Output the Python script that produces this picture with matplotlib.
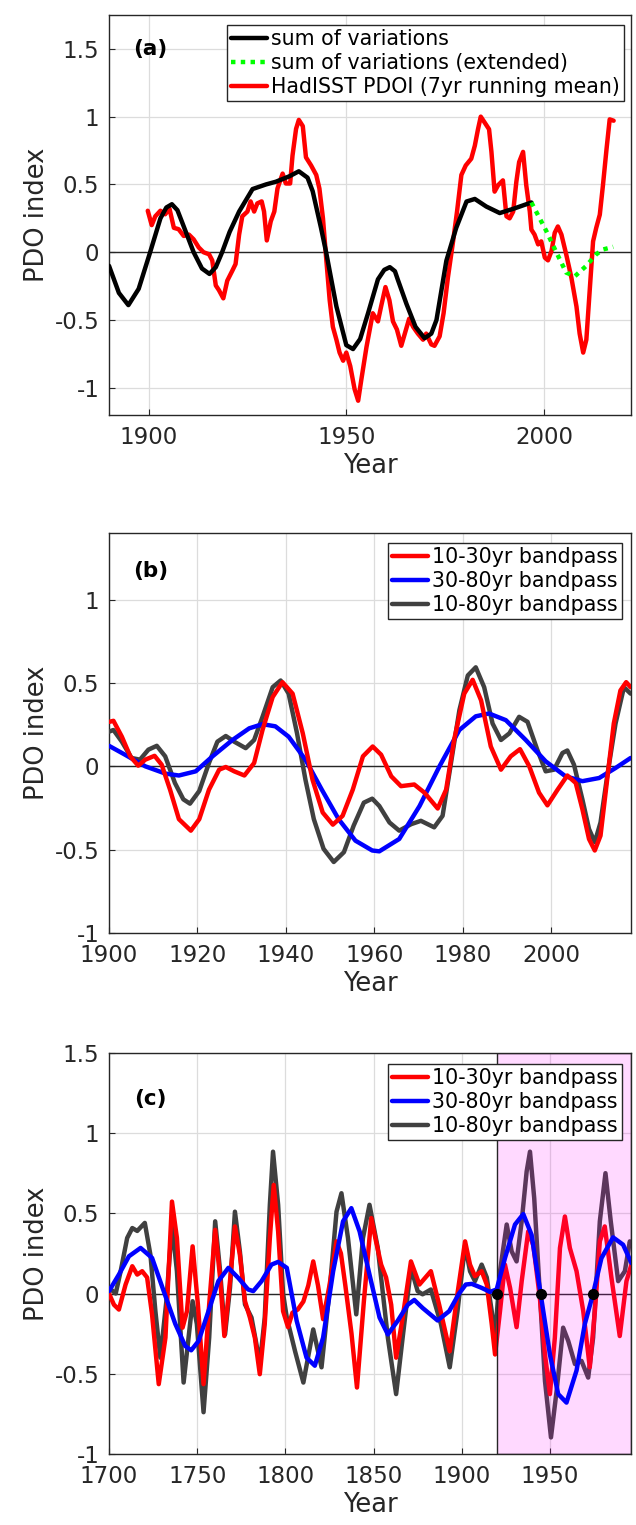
import numpy as np
import matplotlib.pyplot as plt
from matplotlib.ticker import FuncFormatter, MultipleLocator

# ---- panel (a): sum of variations vs HadISST PDOI ----
sum_years = [1890, 1892.5, 1894.9, 1897.5, 1900.4, 1903, 1904.5, 1905.9, 1907.3, 1908.5,
             1911.4, 1913.5, 1915.4, 1917, 1918.6, 1920.5, 1922.9, 1926.3, 1929.7, 1932.2,
             1935.6, 1938, 1940.2, 1941.5, 1943.6, 1944.9, 1947.5, 1950, 1951.7, 1953.5,
             1955.5, 1958, 1959.6, 1961, 1962.3, 1963, 1965.2, 1967.5, 1969.8, 1971.5,
             1972.8, 1975.3, 1977.8, 1980.4, 1982.5, 1985.4, 1988.8, 1992.2, 1996.8]
sum_vals = [-0.10, -0.30, -0.39, -0.27, 0.0, 0.25, 0.33, 0.354, 0.31, 0.22,
            0.0, -0.12, -0.16, -0.11, 0.0, 0.15, 0.30, 0.466, 0.50, 0.52,
            0.56, 0.597, 0.55, 0.45, 0.18, 0.0, -0.40, -0.685, -0.714, -0.64,
            -0.45, -0.2, -0.13, -0.11, -0.14, -0.2, -0.38, -0.55, -0.634, -0.60,
            -0.50, -0.063, 0.18, 0.374, 0.393, 0.337, 0.289, 0.32, 0.367]

ext_years = [1996.8, 2000.6, 2003.1, 2005.6, 2007.8, 2010.7, 2013.2, 2014.9, 2017.5]
ext_vals = [0.367, 0.155, 0.0, -0.15, -0.177, -0.10, -0.015, 0.02, 0.04]

pdoi_years = [1899.8, 1900.8, 1901.7, 1903, 1904.2, 1905.3, 1906.4, 1907.6, 1908.9, 1910.2,
              1911.4, 1912.7, 1913.9, 1915.3, 1916.1, 1917, 1917.8, 1918.9, 1919.9, 1921.2,
              1922, 1922.9, 1923.7, 1925, 1925.8, 1926.7, 1927.5, 1928.6, 1929.2, 1929.9,
              1930.9, 1931.8, 1932.6, 1933.9, 1934.7, 1935.8, 1936.4, 1937.3, 1938, 1939,
              1939.8, 1941.1, 1942.4, 1943.2, 1944.1, 1944.9, 1945.8, 1946.6, 1947.5, 1948.3,
              1949.2, 1950, 1951, 1952.1, 1953, 1953.8, 1955.1, 1956.7, 1958, 1958.8,
              1959.9, 1960.9, 1961.8, 1962.8, 1963.9, 1964.8, 1965.9, 1966.9, 1968.1, 1969.4,
              1970.2, 1971.5, 1972.3, 1973.6, 1974.6, 1975.7, 1977, 1978, 1979.1, 1980.2,
              1981.6, 1982.5, 1983.3, 1984, 1985, 1986.1, 1986.7, 1987.5, 1988.4, 1989.6,
              1990.5, 1991.3, 1992.2, 1993, 1993.7, 1994.7, 1995.5, 1996.4, 1996.8, 1997.6,
              1998.5, 1999.3, 2000.2, 2001, 2001.9, 2002.7, 2003.5, 2004.4, 2005.6, 2006.9,
              2008.2, 2009, 2009.9, 2010.7, 2011.6, 2012.4, 2013.2, 2014.1, 2014.9, 2015.8,
              2016.6, 2017.6]
pdoi_vals = [0.306, 0.20, 0.265, 0.306, 0.28, 0.32, 0.18, 0.17, 0.12, 0.13,
             0.095, 0.035, 0.0, -0.015, -0.06, -0.245, -0.28, -0.34, -0.21, -0.135,
             -0.087, 0.13, 0.265, 0.30, 0.375, 0.30, 0.36, 0.375, 0.30, 0.087,
             0.228, 0.30, 0.47, 0.58, 0.507, 0.507, 0.713, 0.91, 0.976, 0.93,
             0.70, 0.64, 0.57, 0.47, 0.25, -0.04, -0.354, -0.55, -0.645, -0.74,
             -0.80, -0.74, -0.84, -1.01, -1.095, -0.94, -0.70, -0.45, -0.51, -0.40,
             -0.257, -0.354, -0.51, -0.57, -0.69, -0.60, -0.49, -0.55, -0.60, -0.645,
             -0.60, -0.68, -0.69, -0.62, -0.45, -0.185, 0.08, 0.30, 0.57, 0.64,
             0.69, 0.786, 0.907, 1.0, 0.956, 0.907, 0.74, 0.447, 0.495, 0.53,
             0.265, 0.25, 0.30, 0.52, 0.665, 0.74, 0.495, 0.30, 0.167, 0.13,
             0.058, 0.08, -0.04, -0.06, 0.01, 0.143, 0.19, 0.13, -0.015, -0.185,
             -0.40, -0.60, -0.74, -0.645, -0.26, 0.08, 0.18, 0.277, 0.495, 0.76,
             0.98, 0.97]

# ---- panel (b): bandpassed PDO 1900-2018 ----
b_red_years = [1900.1, 1901, 1902.9, 1904.8, 1906.6, 1908.2, 1910.3, 1911.9, 1913.8, 1915.8,
               1918.5, 1920.4, 1922.6, 1924.9, 1926.4, 1928.3, 1930.6, 1932.8, 1934.7, 1937,
               1939.2, 1941.5, 1943.8, 1946, 1948.3, 1950.6, 1952.8, 1955.1, 1957.4, 1959.6,
               1961.5, 1963.8, 1966, 1969, 1971.3, 1974.3, 1976.2, 1978, 1980.3, 1982.2,
               1984.1, 1986.3, 1988.6, 1990.8, 1992.9, 1995, 1997.2, 1999.1, 2001.4, 2003.6,
               2005.5, 2007, 2008.5, 2009.8, 2011.1, 2012.6, 2014.1, 2015.6, 2016.9, 2017.9]
b_red_vals = [0.267, 0.273, 0.178, 0.06, 0.004, 0.04, 0.063, 0.01, -0.14, -0.317,
              -0.386, -0.317, -0.14, -0.02, -0.004, -0.03, -0.055, 0.02, 0.218, 0.416,
              0.505, 0.436, 0.198, -0.08, -0.277, -0.35, -0.297, -0.14, 0.06, 0.119,
              0.07, -0.06, -0.119, -0.109, -0.158, -0.253, -0.14, 0.158, 0.436, 0.519,
              0.396, 0.119, -0.02, 0.06, 0.103, 0.0, -0.158, -0.234, -0.14, -0.055,
              -0.1, -0.257, -0.436, -0.505, -0.416, -0.08, 0.257, 0.455, 0.505, 0.475]

b_blue_years = [1900, 1903.6, 1908.2, 1912.8, 1915.8, 1919.6, 1923.4, 1927.9, 1931.7, 1934.7,
                1937.6, 1940.6, 1944.4, 1948.1, 1951.9, 1955.7, 1959.5, 1961.1, 1965.6, 1970.2,
                1974.7, 1979.2, 1982.9, 1985.9, 1989.7, 1994.2, 1998.7, 2003.2, 2007, 2010.8,
                2014.5, 2017.9]
b_blue_vals = [0.123, 0.07, 0.0, -0.044, -0.055, -0.03, 0.06, 0.158, 0.228, 0.253,
               0.24, 0.178, 0.04, -0.14, -0.317, -0.446, -0.505, -0.51, -0.436, -0.238,
               0.0, 0.218, 0.30, 0.317, 0.277, 0.158, 0.03, -0.06, -0.089, -0.07,
               -0.01, 0.05]

b_gray_years = [1900, 1901, 1902.9, 1905.1, 1907, 1908.9, 1910.8, 1912.7, 1914.9, 1916.8,
                1918.3, 1920.4, 1922.6, 1924.5, 1926.4, 1928.3, 1930.9, 1932.8, 1934.7, 1937,
                1938.8, 1940.6, 1942.5, 1944.4, 1946.3, 1948.5, 1950.8, 1953.1, 1955.3, 1957.6,
                1959.5, 1961.1, 1963.4, 1965.6, 1968.3, 1970.5, 1973.5, 1975.4, 1977.3, 1979.2,
                1981.1, 1982.9, 1984.8, 1986.7, 1988.6, 1990.5, 1992.7, 1994.6, 1996.8, 1998.7,
                2000.6, 2002.5, 2003.6, 2005.1, 2007, 2008.5, 2009.8, 2011.1, 2012.6, 2014.5,
                2016.4, 2017.9]
b_gray_vals = [0.208, 0.218, 0.148, 0.05, 0.04, 0.1, 0.123, 0.06, -0.1, -0.198,
               -0.224, -0.148, 0.02, 0.148, 0.182, 0.148, 0.109, 0.158, 0.297, 0.475,
               0.515, 0.436, 0.198, -0.08, -0.317, -0.495, -0.574, -0.515, -0.356, -0.218,
               -0.194, -0.238, -0.337, -0.386, -0.347, -0.327, -0.366, -0.297, 0.02, 0.337,
               0.545, 0.594, 0.475, 0.257, 0.158, 0.198, 0.297, 0.267, 0.1, -0.03,
               -0.02, 0.08, 0.095, 0.01, -0.198, -0.376, -0.455, -0.337, -0.06, 0.257,
               0.475, 0.436]

# ---- panel (c): bandpassed reconstruction 1700-1996 ----
c_red_years = [1700, 1702.8, 1705.6, 1709.4, 1713.2, 1716, 1718.8, 1721.6, 1724.4, 1728.2,
               1732, 1735.7, 1738.5, 1741.7, 1744.2, 1747.4, 1750.4, 1753.6, 1756.8, 1760.2,
               1763, 1765.4, 1768.6, 1771.4, 1774.2, 1777.1, 1779.9, 1782.7, 1785.5, 1788.3,
               1791.2, 1793.4, 1795.9, 1798.7, 1801.5, 1804, 1807, 1810.2, 1813, 1815.8,
               1818.5, 1821.4, 1825, 1829, 1831.5, 1834, 1837.5, 1840.6, 1844.5, 1848.7,
               1851.5, 1854.3, 1857.1, 1860, 1862.8, 1866.5, 1871.2, 1876, 1882.5, 1887.2,
               1893.2, 1897.6, 1901.9, 1904.7, 1907.5, 1911.3, 1914.2, 1917, 1918.9, 1921.7,
               1924.5, 1927.4, 1931.1, 1934, 1937.7, 1940.6, 1944.3, 1947.2, 1950, 1952.8,
               1955.7, 1958.5, 1961.3, 1965.1, 1968.9, 1972.6, 1975.5, 1978.3, 1981.1, 1984.9,
               1989.6, 1993.4, 1996.2]
c_red_vals = [0.0, -0.07, -0.1, 0.056, 0.17, 0.118, 0.139, 0.1, -0.13, -0.565,
              -0.275, 0.573, 0.346, -0.213, -0.11, 0.294, -0.068, -0.565, -0.068, 0.397,
              0.097, -0.265, 0.077, 0.418, 0.242, -0.048, -0.15, -0.275, -0.503, -0.19,
              0.346, 0.677, 0.387, -0.11, -0.21, -0.12, -0.10, -0.05, 0.05, 0.2,
              0.05, -0.16, 0.05, 0.325, 0.25, 0.05, -0.25, -0.586, -0.05, 0.47,
              0.32, 0.18, 0.1, -0.07, -0.4, -0.15, 0.2, 0.056, 0.139, -0.07,
              -0.36, 0.0, 0.325, 0.18, 0.108, 0.139, 0.056, -0.19, -0.38, -0.11,
              0.18, 0.035, -0.21, 0.077, 0.387, 0.30, -0.027, -0.38, -0.627, -0.275,
              0.284, 0.48, 0.284, 0.139, -0.11, -0.46, -0.11, 0.325, 0.418, 0.097,
              -0.265, 0.077, 0.18]

c_gray_years = [1700, 1703.8, 1706.6, 1710.3, 1713.2, 1716, 1720.3, 1723.5, 1726.3, 1729.1,
                1732.5, 1735.7, 1738.5, 1742.3, 1745.1, 1747.4, 1749.8, 1753.6, 1756.8, 1760.2,
                1763, 1765.8, 1768.6, 1771.4, 1774.2, 1777.1, 1780.8, 1783.6, 1785.5, 1788.3,
                1791.2, 1793, 1795.9, 1798.7, 1800.8, 1805.5, 1810.2, 1815.8, 1820.5, 1825.2,
                1829, 1831.8, 1835.5, 1840.2, 1844, 1847.7, 1852.4, 1858.1, 1862.8, 1866.5,
                1871.2, 1875, 1877.8, 1882.5, 1888.2, 1893.2, 1897.6, 1901.9, 1904.7, 1907.5,
                1911.3, 1914.2, 1917, 1918.9, 1921.7, 1925.5, 1928.3, 1931.1, 1934, 1936.8,
                1938.7, 1941.1, 1944.3, 1947.2, 1950.6, 1953.8, 1957.5, 1960.4, 1964.2, 1967.9,
                1971.7, 1974.5, 1978.3, 1981.5, 1984.5, 1988.7, 1992.5, 1995.3, 1996.2]
c_gray_vals = [0.035, 0.0, 0.139, 0.346, 0.408, 0.39, 0.44, 0.24, -0.11, -0.40,
               -0.05, 0.43, 0.14, -0.555, -0.275, -0.048, -0.19, -0.74, -0.275, 0.45,
               0.139, -0.255, 0.035, 0.51, 0.263, -0.068, -0.15, -0.317, -0.44, -0.15,
               0.553, 0.884, 0.553, 0.0, -0.15, -0.36, -0.555, -0.224, -0.46, 0.035,
               0.51, 0.625, 0.346, -0.13, 0.346, 0.553, 0.284, -0.275, -0.627, -0.275,
               0.16, 0.015, -0.005, 0.025, -0.19, -0.46, -0.11, 0.3, 0.139, 0.077,
               0.18, 0.1, -0.11, -0.275, 0.139, 0.43, 0.263, 0.2, 0.45, 0.76,
               0.884, 0.594, 0.0, -0.545, -0.897, -0.607, -0.213, -0.296, -0.44, -0.42,
               -0.524, -0.275, 0.45, 0.75, 0.45, 0.077, 0.139, 0.325, 0.3]

c_blue_years = [1700, 1705.6, 1711.3, 1717.9, 1724.4, 1731, 1737.6, 1743.2, 1746.6, 1750.8,
                1756.4, 1762, 1767.7, 1773.3, 1778.9, 1781.8, 1786.5, 1792.1, 1795.9, 1800.8,
                1806.4, 1812, 1816.7, 1821.4, 1827.1, 1832.7, 1837.4, 1842.1, 1847.7, 1853.4,
                1858.1, 1863.7, 1869.4, 1873.1, 1877.8, 1886.3, 1892.9, 1898.5, 1902.3, 1905.7,
                1911.3, 1916, 1919.8, 1924.5, 1930.2, 1934.9, 1939.6, 1944.7, 1950, 1954.7,
                1959.4, 1965.1, 1969.8, 1974.5, 1979.2, 1985.8, 1991.5, 1996.2]
c_blue_vals = [0.015, 0.118, 0.232, 0.284, 0.222, 0.015, -0.19, -0.327, -0.354, -0.296,
               -0.11, 0.077, 0.16, 0.097, 0.025, 0.015, 0.077, 0.18, 0.197, 0.16,
               -0.17, -0.40, -0.45, -0.275, 0.139, 0.45, 0.532, 0.387, 0.118, -0.15,
               -0.255, -0.17, -0.07, -0.04, -0.09, -0.168, -0.11, 0.0, 0.056, 0.06,
               0.035, 0.01, 0.025, 0.22, 0.43, 0.495, 0.366, 0.0, -0.38, -0.627,
               -0.68, -0.48, -0.19, 0.0, 0.22, 0.35, 0.304, 0.19]

cross_years = [1920, 1944.7, 1974.5]
cross_vals = [0, 0, 0]
shade_span = [1920, 1996]

RED = '#ff0000'
BLUE = '#0000ff'
GRAY = '#404040'
LW = 3.2
INK = '#262626'
plt.rcParams['lines.solid_joinstyle'] = 'round'
plt.rcParams['lines.solid_capstyle'] = 'round'


def fmt(v, pos):
    return '%g' % v


def style(ax, xlim, ylim, xstep):
    ax.set_xlim(xlim)
    ax.set_ylim(ylim)
    ax.xaxis.set_major_locator(MultipleLocator(xstep))
    ax.yaxis.set_major_locator(MultipleLocator(0.5))
    ax.yaxis.set_major_formatter(FuncFormatter(fmt))
    ax.grid(True, color='#dcdcdc', linewidth=0.9)
    ax.set_axisbelow(True)
    ax.tick_params(direction='in', length=4, width=0.8, labelsize=16.5,
                   colors=INK, labelcolor=INK)
    ax.tick_params(axis='x', pad=8)
    ax.tick_params(axis='y', pad=7)
    for s in ax.spines.values():
        s.set_color(INK)
        s.set_linewidth(1.0)
    ax.axhline(0, color=INK, linewidth=1.0, zorder=2, solid_capstyle='butt')
    ax.set_xlabel('Year', fontsize=18.5, color=INK, labelpad=3)
    ax.set_ylabel('PDO index', fontsize=18.5, color=INK, labelpad=3)


leg_kw = dict(frameon=True, fancybox=False, edgecolor=INK, fontsize=14.8,
              framealpha=1, borderpad=0.2, labelspacing=0.2, handlelength=1.75,
              handletextpad=0.2, borderaxespad=0, loc='upper right')

fig = plt.figure(figsize=(6.36, 15.25), dpi=100)
ax_a = fig.add_axes([0.1714, 0.7279, 0.8208, 0.2623])
ax_b = fig.add_axes([0.1714, 0.3882, 0.8208, 0.2623])
ax_c = fig.add_axes([0.1714, 0.0466, 0.8208, 0.2630])

# (a)
style(ax_a, (1890, 2022), (-1.2, 1.75), 50)
ax_a.plot(sum_years, sum_vals, color='k', lw=LW, label='sum of variations', zorder=4)
ax_a.plot(ext_years, ext_vals, color='#00ff00', lw=LW, ls=(0, (1, 1.2)),
          label='sum of variations (extended)', zorder=4)
ax_a.plot(pdoi_years, pdoi_vals, color=RED, lw=LW,
          label='HadISST PDOI (7yr running mean)', zorder=3)
ax_a.legend(bbox_to_anchor=(0.9866, 0.975), **leg_kw)
ax_a.text(0.079, 0.915, '(a)', transform=ax_a.transAxes, fontsize=15.5,
          fontweight='bold', ha='center', va='center')

# (b)
style(ax_b, (1900, 2018), (-1, 1.4), 20)
ax_b.plot(b_gray_years, b_gray_vals, color=GRAY, lw=LW, zorder=3)
ax_b.plot(b_blue_years, b_blue_vals, color=BLUE, lw=LW, zorder=4)
ax_b.plot(b_red_years, b_red_vals, color=RED, lw=LW, zorder=5)
h1, = ax_b.plot([], [], color=RED, lw=LW, label='10-30yr bandpass')
h2, = ax_b.plot([], [], color=BLUE, lw=LW, label='30-80yr bandpass')
h3, = ax_b.plot([], [], color=GRAY, lw=LW, label='10-80yr bandpass')
ax_b.legend(handles=[h1, h2, h3], bbox_to_anchor=(0.983, 0.975), **leg_kw)
ax_b.text(0.079, 0.905, '(b)', transform=ax_b.transAxes, fontsize=15.5,
          fontweight='bold', ha='center', va='center')

# (c)
style(ax_c, (1700, 1996), (-1, 1.5), 50)
ax_c.plot(c_gray_years, c_gray_vals, color=GRAY, lw=LW, zorder=3)
ax_c.plot(c_red_years, c_red_vals, color=RED, lw=LW, zorder=3)
ax_c.axvspan(shade_span[0], shade_span[1], facecolor=(1, 0, 1, 0.15),
             edgecolor=INK, linewidth=1.0, zorder=4)
ax_c.plot(c_blue_years, c_blue_vals, color=BLUE, lw=LW, zorder=5)
ax_c.plot(cross_years, cross_vals, 'o', color='k', markersize=7, zorder=6)
h1, = ax_c.plot([], [], color=RED, lw=LW, label='10-30yr bandpass')
h2, = ax_c.plot([], [], color=BLUE, lw=LW, label='30-80yr bandpass')
h3, = ax_c.plot([], [], color=GRAY, lw=LW, label='10-80yr bandpass')
leg = ax_c.legend(handles=[h1, h2, h3], bbox_to_anchor=(0.983, 0.9726), **leg_kw)
leg.set_zorder(10)
ax_c.text(0.079, 0.885, '(c)', transform=ax_c.transAxes, fontsize=15.5,
          fontweight='bold', ha='center', va='center')

fig.savefig('out.png', dpi=100)
